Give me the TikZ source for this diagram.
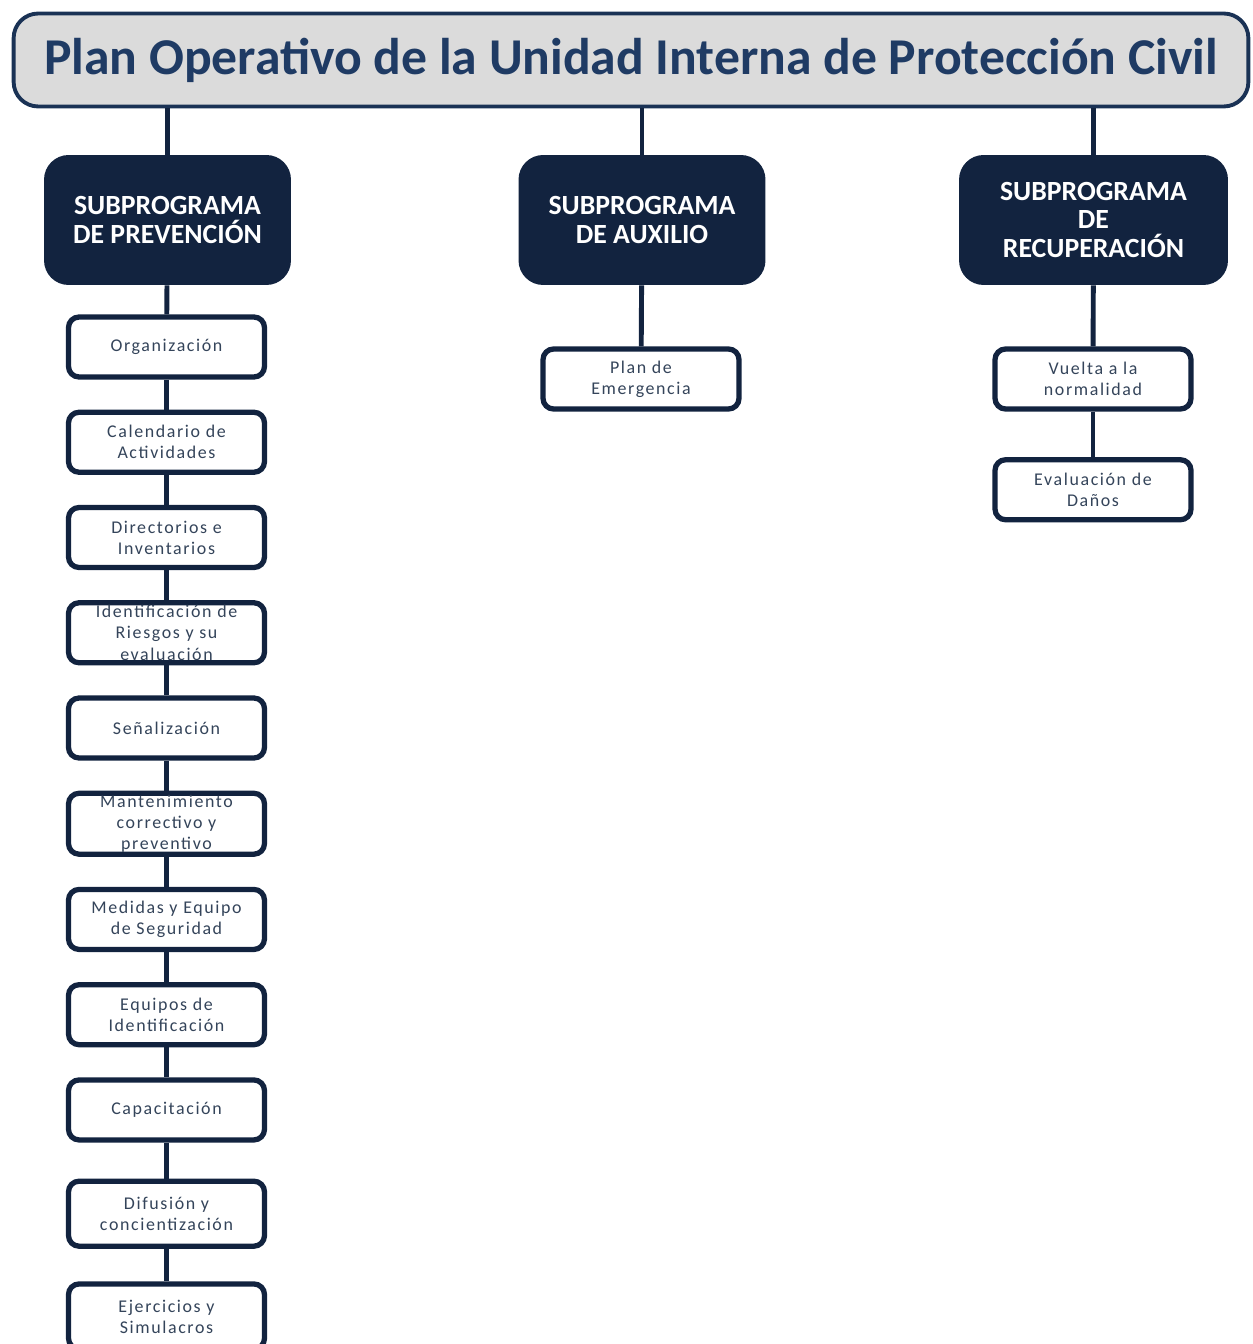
\documentclass[tikz,border=0pt]{standalone}
\usepackage{fontspec}
\setmainfont{Carlito}
\newfontfamily\itemfont[LetterSpace=9]{Carlito}
\usetikzlibrary{positioning}
\definecolor{navy}{HTML}{12233F}
\definecolor{titleblue}{HTML}{1F3B64}
\definecolor{itemtext}{HTML}{34445A}
\tikzset{
line/.style={draw=navy, line width=2.8pt}, % the vertical connectors
node distance=0.6cm, % gap between the small boxes
}
\begin{document}
\begin{tikzpicture}[x=0.02cm, y=-0.02cm,
	title/.style={draw=titleblue!85!black, line width=2.2pt, fill=gray!28, rounded corners=14pt,
		minimum width=24.7cm, minimum height=1.86cm, text=titleblue,
		font=\fontsize{29.4}{32}\selectfont\bfseries},
	sub/.style={fill=navy, rounded corners=14pt, minimum width=4.94cm, minimum height=2.6cm,
		text=white, align=center, font=\fontsize{15.8}{16.4}\selectfont\bfseries},
	item/.style={line, line width=3pt, fill=white, rounded corners=6pt, minimum width=3.92cm, minimum height=1.2cm,
		text=itemtext, align=center, inner sep=1pt, font=\fontsize{10.2}{12}\itemfont}]
\useasboundingbox (0,0) rectangle (1252,1344);
\node[title] (plan) at (631,60) {Plan Operativo de la Unidad Interna de Protección Civil};
\node[sub] (prev) at (167.5,220) {SUBPROGRAMA\\DE PREVENCIÓN};
\node[sub] (aux) at (642,220) {SUBPROGRAMA\\DE AUXILIO};
\node[sub, minimum width=5.38cm] (recup) at (1093.5,220) {SUBPROGRAMA\\DE\\RECUPERACIÓN};
% prevencion
\node[item] (org) at (166.5,347) {Organización};
\node[item, below=of org] (cal) {Calendario de\\Actividades};
\node[item, below=of cal] (dir) {Directorios e\\Inventarios};
\node[item, below=of dir] (riesgo) {Identificación de\\Riesgos y su\\evaluación};
\node[item, below=of riesgo] (senal) {Señalización};
\node[item, below=of senal] (mant) {Mantenimiento\\correctivo y\\preventivo};
\node[item, below=of mant] (medidas) {Medidas y Equipo\\de Seguridad};
\node[item, below=of medidas] (equipos) {Equipos de\\Identificación};
\node[item, below=of equipos] (capac) {Capacitación};
\node[item, below=0.72cm of capac, minimum height=1.3cm] (difus) {Difusión y\\concientización};
\node[item, below=0.65cm of difus, minimum height=1.3cm] (ejerc) {Ejercicios y\\Simulacros};
% auxilio y recuperacion
\node[item] (emerg) at (641,379) {Plan de\\Emergencia};
\node[item] (vuelta) at (1093,379) {Vuelta a la\\normalidad};
\node[item, below=0.91cm of vuelta] (danos) {Evaluación de\\Daños};
% connectors
\draw[line] (plan.south -| prev) -- (prev.north);
\draw[line] (plan.south -| aux) -- (aux.north);
\draw[line] (plan.south -| recup) -- (recup.north);
\draw[line] (prev) -- (org);
\draw[line] (org) -- (cal);
\draw[line] (cal) -- (dir);
\draw[line] (dir) -- (riesgo);
\draw[line] (riesgo) -- (senal);
\draw[line] (senal) -- (mant);
\draw[line] (mant) -- (medidas);
\draw[line] (medidas) -- (equipos);
\draw[line] (equipos) -- (capac);
\draw[line] (capac) -- (difus);
\draw[line] (difus) -- (ejerc);
\draw[line] (aux) -- (emerg);
\draw[line] (recup) -- (vuelta);
\draw[line] (vuelta) -- (danos);
\end{tikzpicture}
\end{document}
